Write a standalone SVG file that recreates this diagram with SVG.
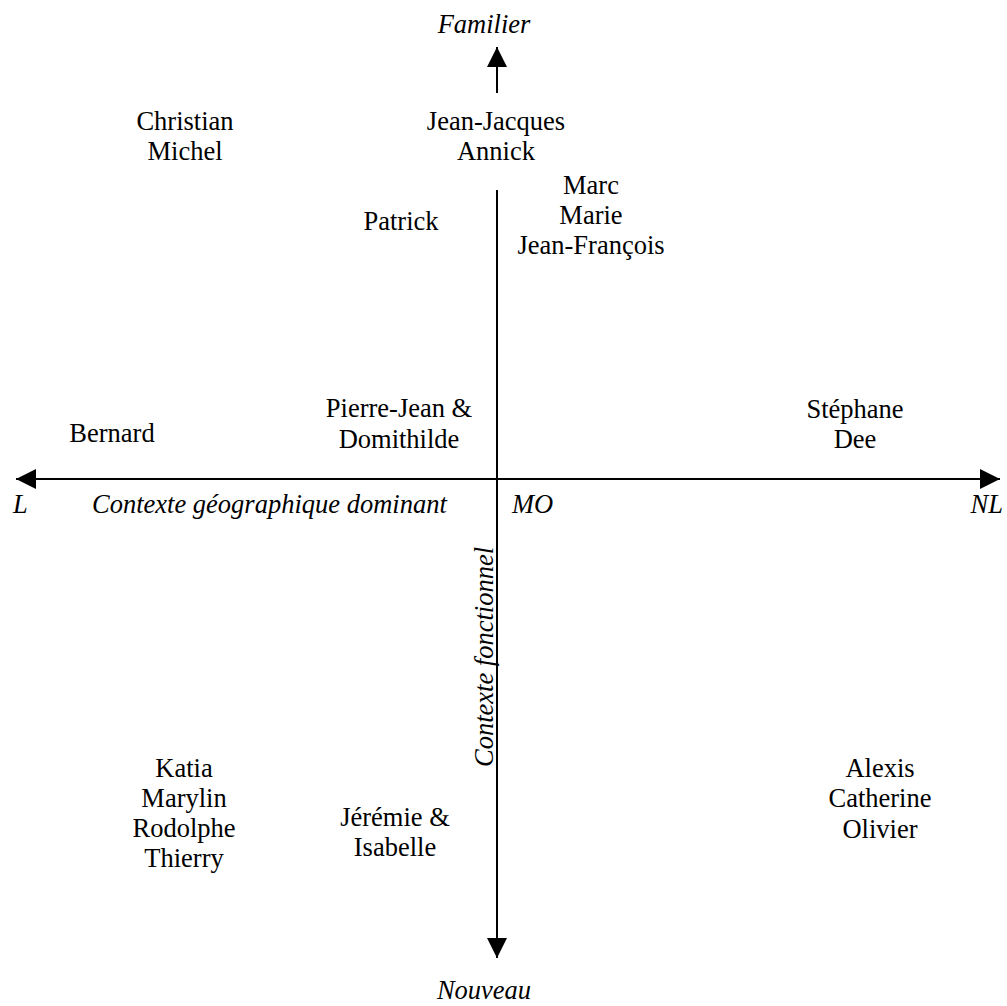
<svg xmlns="http://www.w3.org/2000/svg" width="1007" height="1006" viewBox="0 0 1007 1006">
<style>
text{font-family:"Liberation Serif","Times New Roman",serif;font-size:26.5px;fill:#000;}
.n{text-anchor:middle;}
.i{font-style:italic;}
.ax{stroke:#000;stroke-width:2;fill:none;}
</style>
<defs>
<marker id="ah" viewBox="0 0 20 20" markerWidth="20" markerHeight="20" markerUnits="userSpaceOnUse" refX="20" refY="10" orient="auto-start-reverse">
<path d="M0,0 L20,10 L0,20 z" fill="#000"/>
</marker>
</defs>
<rect width="1007" height="1006" fill="#fff"/>
<g id="connectors">
<line class="ax" x1="497" y1="93" x2="497" y2="47" marker-end="url(#ah)"/>
<line class="ax" x1="497" y1="190" x2="497" y2="958" marker-end="url(#ah)"/>
<line class="ax" x1="16" y1="479" x2="1000" y2="479" marker-start="url(#ah)" marker-end="url(#ah)"/>
</g>
<g id="axis-labels">
<text class="i n" x="484" y="33">Familier</text>
<text class="i n" x="484" y="999">Nouveau</text>
<text class="i" x="13" y="513">L</text>
<text class="i" x="92" y="513">Contexte géographique dominant</text>
<text class="i" x="512" y="513">MO</text>
<text class="i" x="1003" y="513" text-anchor="end">NL</text>
<text class="i n" x="493" y="657" transform="rotate(-90 493 657)">Contexte fonctionnel</text>
</g>
<g id="node-christian-michel">
<text class="n" x="185" y="130">Christian</text>
<text class="n" x="185" y="160">Michel</text>
</g>
<g id="node-jeanjacques-annick">
<text class="n" x="496" y="130">Jean-Jacques</text>
<text class="n" x="496" y="160">Annick</text>
</g>
<g id="node-marc-marie-jeanfrancois">
<text class="n" x="591" y="194">Marc</text>
<text class="n" x="591" y="224">Marie</text>
<text class="n" x="591" y="254">Jean-François</text>
</g>
<g id="node-patrick">
<text class="n" x="401" y="230">Patrick</text>
</g>
<g id="node-bernard">
<text class="n" x="112" y="442">Bernard</text>
</g>
<g id="node-pierrejean-domithilde">
<text class="n" x="399" y="417">Pierre-Jean &amp;</text>
<text class="n" x="399" y="448">Domithilde</text>
</g>
<g id="node-stephane-dee">
<text class="n" x="855" y="418">Stéphane</text>
<text class="n" x="855" y="448">Dee</text>
</g>
<g id="node-katia-group">
<text class="n" x="184" y="777">Katia</text>
<text class="n" x="184" y="807">Marylin</text>
<text class="n" x="184" y="837">Rodolphe</text>
<text class="n" x="184" y="867">Thierry</text>
</g>
<g id="node-jeremie-isabelle">
<text class="n" x="395" y="826">Jérémie &amp;</text>
<text class="n" x="395" y="856">Isabelle</text>
</g>
<g id="node-alexis-group">
<text class="n" x="880" y="777">Alexis</text>
<text class="n" x="880" y="807">Catherine</text>
<text class="n" x="880" y="838">Olivier</text>
</g>
</svg>
